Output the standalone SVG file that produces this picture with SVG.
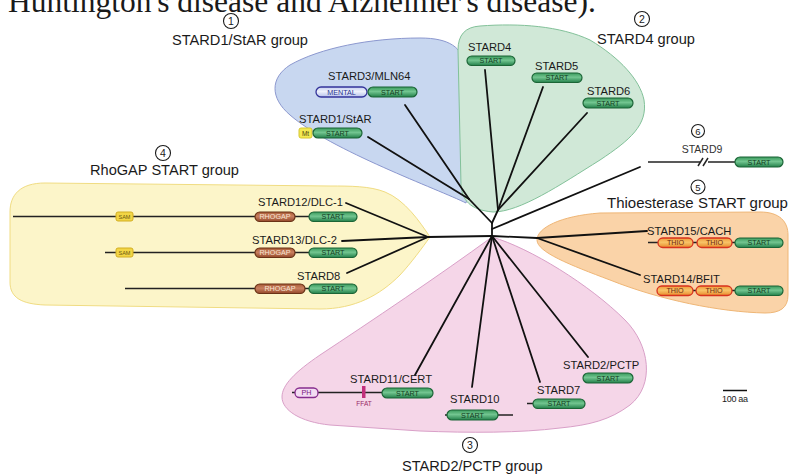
<svg xmlns="http://www.w3.org/2000/svg" width="792" height="475" viewBox="0 0 792 475">
<defs>
<linearGradient id="gStart" x1="0" y1="0" x2="0" y2="1"><stop offset="0" stop-color="#3a9a5c"/><stop offset="0.45" stop-color="#72c590"/><stop offset="1" stop-color="#23804a"/></linearGradient>
<linearGradient id="gThio" x1="0" y1="0" x2="0" y2="1"><stop offset="0" stop-color="#f09838"/><stop offset="0.45" stop-color="#f8c468"/><stop offset="1" stop-color="#e88a2c"/></linearGradient>
<linearGradient id="gRho" x1="0" y1="0" x2="0" y2="1"><stop offset="0" stop-color="#a85a36"/><stop offset="0.45" stop-color="#c98060"/><stop offset="1" stop-color="#94482a"/></linearGradient>
<linearGradient id="gMental" x1="0" y1="0" x2="0" y2="1"><stop offset="0" stop-color="#c4cdf0"/><stop offset="0.45" stop-color="#eef1fb"/><stop offset="1" stop-color="#b5c0ea"/></linearGradient>
</defs>
<style>
.t{font-family:"Liberation Sans",Arial,Helvetica,sans-serif;fill:#1a1a1a}
.grp{font-size:14.6px}
.lbl{font-size:11.2px}
.num{font-size:10.5px;text-anchor:middle}
.circ{fill:none;stroke:#1a1a1a;stroke-width:1.1}
.dom{font-family:"Liberation Sans",Arial,Helvetica,sans-serif;font-size:7.2px;text-anchor:middle}
.st{fill:url(#gStart);stroke:#1b6536;stroke-width:1.2}
.stt{fill:#143d22}
.th{fill:url(#gThio);stroke:#d8321e;stroke-width:1.3}
.tht{fill:#6a2810}
.rh{fill:url(#gRho);stroke:#6a3216;stroke-width:1.2}
.rht{fill:#f6e2d2}
.me{fill:url(#gMental);stroke:#34349a;stroke-width:1.3}
.met{fill:#2a3590}
.sam{fill:#f2d545;stroke:#d2ae22;stroke-width:1}
.samt{fill:#6a5810;font-size:5.5px}
.mt{fill:#f3ea52;stroke:#d6c632;stroke-width:1}
.mtt{fill:#4a4610;font-size:6.5px}
.ph{fill:#f3dcf2;stroke:#862c8e;stroke-width:1.3}
.pht{fill:#7a2080}
.pl{stroke:#222;stroke-width:1.5;fill:none}
.br{stroke:#111;stroke-width:1.8;fill:none;stroke-linecap:round}
</style>

<text class="t" x="8" y="12" style="font-family:'Liberation Serif','Times New Roman',serif;font-size:31.5px">Huntington's disease and Alzheimer's disease).</text>

<g id="groups">
<path id="blue-zone" d="M466,203 C440,190 330,150 290,115 C270,98 270,78 290,65 C320,48 370,38 420,38 C450,38 462,48 465,65 C469,110 472,180 466,203 Z" fill="#c8d7f0" stroke="#8c98cf" stroke-width="1"/>
<path id="green-zone" d="M493,212 C470,210 462,200 461,185 L458,50 C458,35 465,27 480,26 C520,23 560,26 590,40 C620,58 640,80 644,100 C648,125 630,140 600,160 C560,185 520,212 493,212 Z" fill="#d0e8d7" stroke="#82c199" stroke-width="1"/>
<path id="yellow-zone" d="M430,237 C420,222 405,200 385,192 C370,186 350,186 330,186 L45,183 C20,183 10,195 10,212 L10,282 C10,298 22,304 45,305 L320,309 C355,309 380,295 400,275 C412,262 422,248 430,237 Z" fill="#fcf5c9" stroke="#f0dc82" stroke-width="1"/>
<path id="orange-zone" d="M537,240 C537,228 560,216 600,213 L760,212 C780,212 788,222 788,235 L788,295 C788,308 780,313 765,313 C720,312 660,300 610,280 C570,265 537,252 537,240 Z" fill="#fad3a8" stroke="#efb676" stroke-width="1"/>
<path id="pink-zone" d="M492,237 C530,248 590,285 625,320 C650,345 655,385 630,405 C610,420 590,425 560,428 C520,433 470,433 420,431 L330,425 C300,422 282,410 282,397 C282,385 295,372 320,355 C370,322 440,275 492,237 Z" fill="#f5d6e8" stroke="#d9a0c8" stroke-width="1"/>
</g>

<g id="group-labels">
<circle class="circ" cx="231" cy="21" r="7.5"/><text class="t num" x="231" y="24.8">1</text>
<text class="t grp" x="240" y="45" text-anchor="middle">STARD1/StAR group</text>
<circle class="circ" cx="642" cy="19" r="7.5"/><text class="t num" x="642" y="22.8">2</text>
<text class="t grp" x="597" y="44">STARD4 group</text>
<circle class="circ" cx="163" cy="153" r="7.5"/><text class="t num" x="163" y="156.8">4</text>
<text class="t grp" x="90" y="175">RhoGAP START group</text>
<circle class="circ" cx="698" cy="131" r="6.5"/><text class="t num" x="698" y="134.5" style="font-size:9.5px">6</text>
<circle class="circ" cx="698" cy="187" r="7"/><text class="t num" x="698" y="190.5" style="font-size:9.5px">5</text>
<text class="t grp" x="607" y="208" style="font-size:15px">Thioesterase START group</text>
<circle class="circ" cx="470" cy="445" r="7.5"/><text class="t num" x="470" y="448.8">3</text>
<text class="t grp" x="402" y="471">STARD2/PCTP group</text>
</g>

<g id="connectors">
<line class="br" x1="405" y1="105" x2="469" y2="199"/>
<line class="br" x1="368" y1="137" x2="469" y2="199"/>
<line class="br" x1="469" y1="199" x2="492" y2="223"/>
<line class="br" x1="485" y1="70" x2="498" y2="210"/>
<line class="br" x1="543" y1="87" x2="498" y2="210"/>
<line class="br" x1="587" y1="113" x2="498" y2="210"/>
<line class="br" x1="498" y1="210" x2="492" y2="223"/>
<line class="br" x1="492" y1="223" x2="492" y2="236"/>
<line class="br" x1="492" y1="229" x2="640" y2="167"/>
<line class="br" x1="428" y1="237" x2="492" y2="236"/>
<line class="br" x1="346" y1="203" x2="428" y2="237"/>
<line class="br" x1="342" y1="241" x2="428" y2="237"/>
<line class="br" x1="347" y1="273" x2="428" y2="237"/>
<line class="br" x1="492" y1="236" x2="537" y2="238"/>
<line class="br" x1="537" y1="238" x2="647" y2="231"/>
<line class="br" x1="537" y1="238" x2="640" y2="275"/>
<line class="br" x1="492" y1="236" x2="415" y2="375"/>
<line class="br" x1="492" y1="236" x2="472" y2="387"/>
<line class="br" x1="492" y1="236" x2="540" y2="382"/>
<line class="br" x1="492" y1="236" x2="588" y2="357"/>
</g>

<g id="STARD3">
<text class="t lbl" x="328" y="80">STARD3/MLN64</text>
<rect class="me" x="316" y="87" width="51" height="10" rx="5"/><text class="dom met" x="341.5" y="94.6">MENTAL</text>
<rect class="st" x="368" y="87" width="49" height="10" rx="5"/><text class="dom stt" x="392.5" y="94.6">START</text>
</g>
<g id="STARD1">
<text class="t lbl" x="299" y="123">STARD1/StAR</text>
<rect class="mt" x="299" y="128" width="13" height="10" rx="2"/><text class="dom mtt" x="305.5" y="135.5">Mt</text>
<rect class="st" x="313" y="128" width="49" height="10" rx="5"/><text class="dom stt" x="337.5" y="135.6">START</text>
</g>
<g id="STARD4">
<text class="t lbl" x="468" y="51">STARD4</text>
<rect class="st" x="467" y="56" width="48" height="9.5" rx="4.75"/><text class="dom stt" x="491" y="63.3">START</text>
</g>
<g id="STARD5">
<text class="t lbl" x="535" y="70">STARD5</text>
<rect class="st" x="532" y="73" width="50" height="9.5" rx="4.75"/><text class="dom stt" x="557" y="80.3">START</text>
</g>
<g id="STARD6">
<text class="t lbl" x="587" y="95">STARD6</text>
<rect class="st" x="583" y="98" width="50" height="10" rx="5"/><text class="dom stt" x="608" y="105.6">START</text>
</g>

<g id="STARD12">
<text class="t lbl" x="258" y="206">STARD12/DLC-1</text>
<line class="pl" x1="13" y1="216.5" x2="309" y2="216.5"/>
<rect class="sam" x="116" y="212" width="17" height="9" rx="2"/><text class="dom samt" x="124.5" y="218.5">SAM</text>
<rect class="rh" x="255" y="212" width="40" height="9.5" rx="4.75"/><text class="dom rht" x="275" y="219.3">RHOGAP</text>
<rect class="st" x="309" y="212" width="48" height="9.5" rx="4.75"/><text class="dom stt" x="333" y="219.3">START</text>
</g>
<g id="STARD13">
<text class="t lbl" x="252" y="244">STARD13/DLC-2</text>
<line class="pl" x1="105" y1="252.5" x2="309" y2="252.5"/>
<rect class="sam" x="116" y="248" width="17" height="9" rx="2"/><text class="dom samt" x="124.5" y="254.5">SAM</text>
<rect class="rh" x="255" y="248" width="40" height="9.5" rx="4.75"/><text class="dom rht" x="275" y="255.3">RHOGAP</text>
<rect class="st" x="309" y="248" width="48" height="9.5" rx="4.75"/><text class="dom stt" x="333" y="255.3">START</text>
</g>
<g id="STARD8">
<text class="t lbl" x="297" y="280">STARD8</text>
<line class="pl" x1="125" y1="288.5" x2="309" y2="288.5"/>
<rect class="rh" x="255" y="284" width="50" height="9.5" rx="4.75"/><text class="dom rht" x="280" y="291.3">RHOGAP</text>
<rect class="st" x="309" y="284" width="48" height="9.5" rx="4.75"/><text class="dom stt" x="333" y="291.3">START</text>
</g>

<g id="STARD9">
<text class="t" x="702" y="153" text-anchor="middle" style="font-size:10.5px;fill:#333">STARD9</text>
<line class="pl" x1="648" y1="162" x2="700" y2="162"/>
<line class="pl" x1="708" y1="162" x2="735" y2="162"/>
<line class="pl" x1="698" y1="166" x2="703" y2="158"/>
<line class="pl" x1="703" y1="166" x2="708" y2="158"/>
<rect class="st" x="735" y="157" width="48" height="10" rx="5"/><text class="dom stt" x="759" y="164.6">START</text>
</g>
<g id="STARD15">
<text class="t lbl" x="647" y="235">STARD15/CACH</text>
<line class="pl" x1="648" y1="242.5" x2="735" y2="242.5"/>
<rect class="th" x="658" y="238" width="35" height="9.5" rx="4.75"/><text class="dom tht" x="675.5" y="245.3">THIO</text>
<rect class="th" x="697" y="238" width="35" height="9.5" rx="4.75"/><text class="dom tht" x="714.5" y="245.3">THIO</text>
<rect class="st" x="735" y="238" width="48" height="9.5" rx="4.75"/><text class="dom stt" x="759" y="245.3">START</text>
</g>
<g id="STARD14">
<text class="t lbl" x="643" y="283">STARD14/BFIT</text>
<line class="pl" x1="657" y1="290.5" x2="735" y2="290.5"/>
<rect class="th" x="657" y="286" width="36" height="9.5" rx="4.75"/><text class="dom tht" x="675" y="293.3">THIO</text>
<rect class="th" x="696" y="286" width="36" height="9.5" rx="4.75"/><text class="dom tht" x="714" y="293.3">THIO</text>
<rect class="st" x="735" y="286" width="48" height="9.5" rx="4.75"/><text class="dom stt" x="759" y="293.3">START</text>
</g>

<g id="STARD11">
<text class="t lbl" x="350" y="383">STARD11/CERT</text>
<line class="pl" x1="292" y1="392.5" x2="382" y2="392.5"/>
<rect class="ph" x="295" y="388" width="23" height="9.5" rx="4.5"/><text class="dom pht" x="306.5" y="395.3">PH</text>
<rect x="362" y="386" width="3.5" height="12" fill="#c2307c"/>
<text class="dom" x="364" y="406" style="font-size:6.5px;fill:#9a2a66">FFAT</text>
<rect class="st" x="382" y="388" width="51" height="10" rx="5"/><text class="dom stt" x="407.5" y="395.6">START</text>
</g>
<g id="STARD10">
<text class="t lbl" x="450" y="403">STARD10</text>
<line class="pl" x1="445" y1="415" x2="513" y2="415"/>
<rect class="st" x="447" y="410" width="51" height="10" rx="5"/><text class="dom stt" x="472.5" y="417.6">START</text>
</g>
<g id="STARD7">
<text class="t lbl" x="537" y="394">STARD7</text>
<line class="pl" x1="527" y1="403.5" x2="533" y2="403.5"/>
<rect class="st" x="533" y="399" width="52" height="9.5" rx="4.75"/><text class="dom stt" x="559" y="406.3">START</text>
</g>
<g id="STARD2">
<text class="t lbl" x="563" y="369">STARD2/PCTP</text>
<rect class="st" x="583" y="373" width="50" height="10" rx="5"/><text class="dom stt" x="608" y="380.6">START</text>
</g>

<g id="scale-bar">
<line x1="723" y1="390.5" x2="747" y2="390.5" stroke="#111" stroke-width="1.5"/>
<text class="t" x="722" y="402" style="font-size:9px" textLength="26">100 aa</text>
</g>
</svg>
